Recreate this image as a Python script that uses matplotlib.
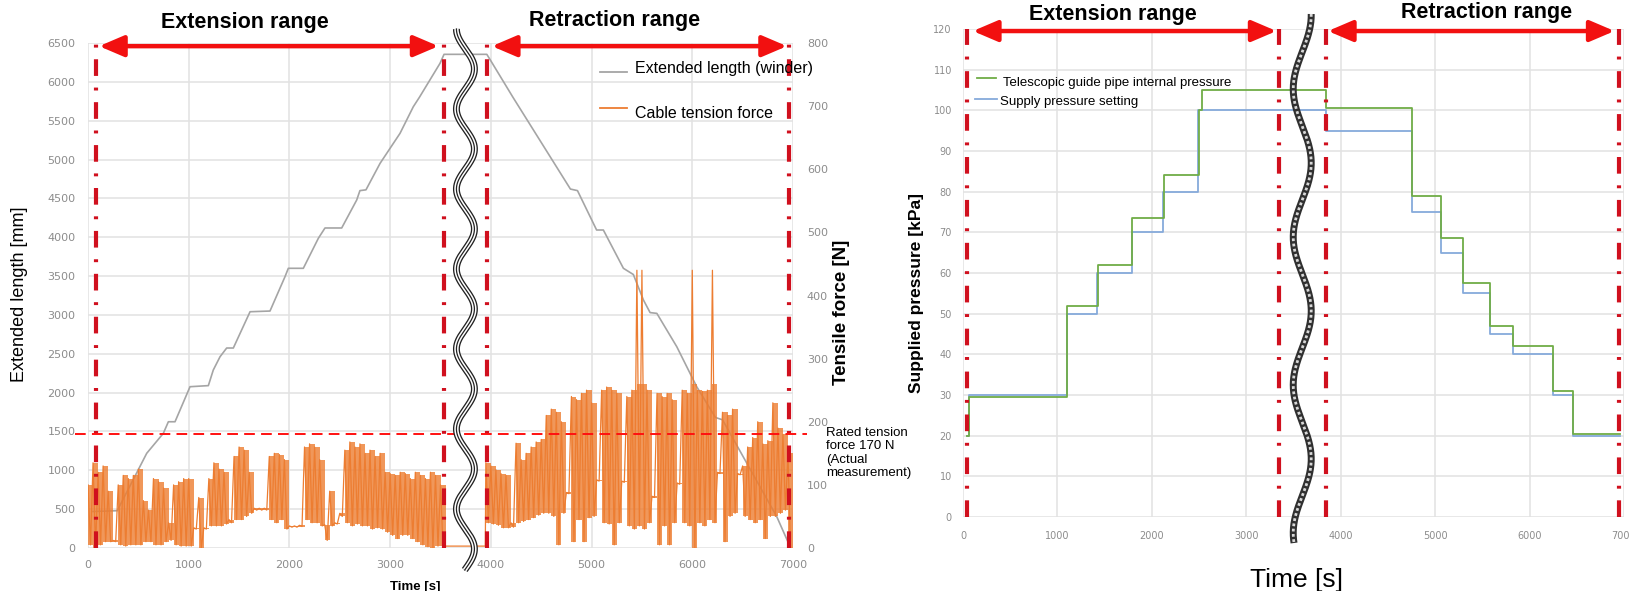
import numpy as np
import matplotlib.pyplot as plt
from matplotlib.lines import Line2D

plt.rcParams['font.family'] = ['Liberation Sans', 'DejaVu Sans']

W, H = 1631, 591

# ---------------- left chart: winder length + cable tension ----------------
len_time = [50, 290, 447, 583, 748, 798, 864, 914, 1013, 1195, 1244, 1311, 1377, 1443,
            1609, 1807, 1956, 1989, 2138, 2287, 2353, 2519, 2668, 2700, 2760, 2900,
            3098, 3230, 3290, 3495, 3535, 3960, 4000, 4220, 4790, 4860, 5050, 5117,
            5316, 5415, 5515, 5581, 5648, 5846, 6044, 6230, 6300, 6839, 6971]
len_mm = [470, 480, 875, 1219, 1476, 1625, 1625, 1776, 2076, 2090, 2291, 2462, 2574, 2574,
          3041, 3050, 3492, 3600, 3600, 3986, 4119, 4119, 4479, 4600, 4610, 4951,
          5337, 5680, 5800, 6238, 6354, 6354, 6270, 5800, 4620, 4600, 4093, 4093,
          3600, 3520, 3192, 3030, 3020, 2591, 2076, 1680, 1650, 403, 17]

# tension envelope read in 50 s bins (max / min of the trace in each bin) [N]
bin_w = 50
ext_start = 0
ext_hi = [100, 135, 120, 130, 90, 12, 100, 115, 110, 115, 125, 75, 60, 110, 105, 95, 40,
          100, 105, 110, 110, 32, 80, 32, 110, 135, 125, 120, 45, 145, 160, 155, 120,
          63, 63, 63, 145, 150, 148, 140, 35, 35, 36, 160, 165, 160, 140, 37, 90, 40,
          55, 155, 168, 160, 165, 150, 155, 145, 150, 120, 118, 115, 120, 118, 110,
          120, 115, 110, 120, 115, 100]
ext_lo = [5, 0, 5, 10, 10, 10, 5, 3, 5, 5, 5, 10, 10, 5, 5, 10, 12,
          5, 3, 3, 3, 30, 0, 30, 35, 35, 35, 38, 40, 45, 45, 50, 55,
          60, 60, 60, 45, 40, 45, 30, 33, 33, 34, 45, 40, 40, 35, 12, 35, 38,
          50, 40, 35, 38, 35, 35, 30, 32, 30, 25, 20, 15, 20, 20, 15,
          10, 5, 2, 0, 3, 3]
idle_force = 3
ret_start = 3950
ret_hi = [135, 130, 124, 118, 115, 40, 166, 140, 150, 160, 168, 172, 210, 220, 215, 200,
          88, 240, 235, 245, 250, 230, 108, 250, 255, 250, 245, 106, 240, 250, 440, 440,
          250, 82, 245, 240, 245, 235, 103, 250, 245, 440, 250, 248, 250, 440, 120,
          215, 210, 220, 118, 130, 160, 175, 200, 165, 170, 230, 190, 180, 150]
ret_lo = [40, 38, 36, 32, 32, 33, 40, 42, 45, 48, 52, 55, 55, 50, 5, 55,
          86, 10, 45, 10, 48, 50, 106, 40, 38, 5, 40, 104, 35, 30, 35, 30,
          40, 80, 5, 35, 5, 40, 101, 40, 35, 0, 40, 35, 45, 40, 118,
          10, 50, 55, 116, 50, 45, 40, 45, 15, 50, 50, 55, 60, 0]
# bins whose max is a single narrow spike: keep these out of the solid band
spike_cap = 260

rated_force = 181
left_marks = [80, 3535, 3960, 6960]
left_arrows = [(110, 3480), (4010, 6940)]

# ---------------- right chart: pressures ----------------
supply_t = [40, 60, 1100, 1420, 1790, 2120, 2490, 3840, 4750, 5060, 5290, 5580, 5820,
            6245, 6455, 6955]
supply_kpa = [20, 30, 50, 60, 70, 80, 100, 95, 75, 65, 55, 45, 40, 30, 20, 20]
pipe_t = [40, 60, 1105, 1425, 1795, 2125, 2495, 2530, 3840, 4755, 5065, 5295, 5585,
          5825, 6250, 6460, 6960]
pipe_kpa = [20, 29.5, 52, 62, 73.5, 84, 100, 105, 100.5, 79, 68.5, 57.5, 47, 42, 31,
            20.5, 20.5]
right_marks = [40, 3345, 3840, 6950]
right_arrows = [(105, 3320), (3865, 6900)]

ORANGE = '#ed7d31'
GRAY = '#a5a5a5'
GREEN = '#70ad47'
BLUE = '#86aadb'
MARK_RED = '#d0101e'
ARROW_RED = '#f21010'
TICK = '#8c8c8c'
GRID = '#e2e2e2'


def rect(x0, x1, ytop, ybot):
    return [x0 / W, 1 - ybot / H, (x1 - x0) / W, (ybot - ytop) / H]


def zigzag(t0, hi, lo):
    tt, ff = [], []
    for i, (h, l) in enumerate(zip(hi, lo)):
        t = t0 + i * bin_w
        tt += [t, t + bin_w / 2]
        ff += [h, l]
    return tt, ff


def band(ax, t0, hi, lo):
    edges = t0 + bin_w * np.arange(len(hi) + 1)
    h = np.minimum(np.array(hi + hi[-1:], float), spike_cap)
    l = np.array(lo + lo[-1:], float)
    ax.fill_between(edges, l, h, step='post', color=ORANGE, alpha=0.8, lw=0, zorder=2)


def style_ticks(ax, size):
    for lab in ax.get_xticklabels() + ax.get_yticklabels():
        lab.set_family('DejaVu Sans')
        lab.set_fontsize(size)
        lab.set_color(TICK)
    for s in ax.spines.values():
        s.set_visible(False)


fig = plt.figure(figsize=(W / 100, H / 100), dpi=100)

# ---- left panel ----
ax1 = fig.add_axes(rect(88, 793, 43, 548))
ax1r = ax1.twinx()
ax1.set_xlim(0, 7000)
ax1.set_ylim(0, 6500)
ax1r.set_ylim(0, 800)
ax1.set_xticks(range(0, 7001, 1000))
ax1.set_yticks(range(0, 6501, 500))
ax1r.set_yticks(range(0, 801, 100))
ax1.grid(True, color=GRID, lw=1.1)
ax1.set_axisbelow(True)
ax1.tick_params(length=0)
ax1.tick_params(axis='y', pad=9)
ax1.tick_params(axis='x', pad=9)
ax1r.tick_params(length=0, pad=10)
style_ticks(ax1, 8)
style_ticks(ax1r, 8)

ax1.plot(len_time, len_mm, color=GRAY, lw=1.2)

band(ax1r, ext_start, ext_hi, ext_lo)
band(ax1r, ret_start, ret_hi, ret_lo)
t1, f1 = zigzag(ext_start, ext_hi, ext_lo)
t2, f2 = zigzag(ret_start, ret_hi, ret_lo)
tt = t1 + [3550, ret_start - 5] + t2
ff = f1 + [idle_force, idle_force] + f2
ax1r.plot(tt, ff, color=ORANGE, lw=0.9, zorder=3)

for t in left_marks:
    ax1r.axvline(t, color=MARK_RED, lw=3, ls=(0, (4, 2.8, 0.7, 2.8)), zorder=6)
ax1r.plot([-0.018, 1.02], [rated_force, rated_force], color='#ff1010', lw=1.4,
          dashes=(5.5, 3.2), transform=ax1r.get_yaxis_transform(), clip_on=False,
          zorder=7)
for a, b in left_arrows:
    ax1r.annotate('', xy=(b, 795), xytext=(a, 795),
                  arrowprops=dict(arrowstyle='<|-|>,head_length=0.75,head_width=0.32',
                                  color=ARROW_RED, lw=3.2, shrinkA=0, shrinkB=0,
                                  mutation_scale=20),
                  annotation_clip=False, zorder=8)

# ---- right panel ----
ax2 = fig.add_axes(rect(963, 1624, 29, 517))
ax2.set_xlim(0, 7000)
ax2.set_ylim(0, 120)
ax2.set_xticks(range(0, 7001, 1000))
ax2.set_yticks(range(0, 121, 10))
ax2.grid(True, color=GRID, lw=1.1)
ax2.set_axisbelow(True)
ax2.tick_params(length=0)
ax2.tick_params(axis='y', pad=8)
ax2.tick_params(axis='x', pad=10)
style_ticks(ax2, 7)

ax2.plot(supply_t, supply_kpa, drawstyle='steps-post', color=BLUE, lw=1.3)
ax2.plot(pipe_t, pipe_kpa, drawstyle='steps-post', color=GREEN, lw=1.3)
for t in right_marks:
    ax2.axvline(t, color=MARK_RED, lw=3, ls=(0, (4, 2.8, 0.7, 2.8)), zorder=6)
for a, b in right_arrows:
    ax2.annotate('', xy=(b, 119.5), xytext=(a, 119.5),
                 arrowprops=dict(arrowstyle='<|-|>,head_length=0.75,head_width=0.32',
                                 color=ARROW_RED, lw=3.2, shrinkA=0, shrinkB=0,
                                 mutation_scale=20),
                 annotation_clip=False, zorder=8)

# ---- overlay (pixel coordinates, origin top-left) ----
ov = fig.add_axes([0, 0, 1, 1])
ov.set_xlim(0, W)
ov.set_ylim(H, 0)
ov.axis('off')
ov.set_zorder(20)

# break symbols centred between the two range markers
xl = ax1.transData.transform(((left_marks[1] + left_marks[2]) / 2, 0))[0]
xr = ax2.transData.transform(((right_marks[1] + right_marks[2]) / 2, 0))[0]
yy = np.linspace(29, 570, 800)
wx = xl - 9 * np.cos(2 * np.pi * (yy - 29) / 80)
ov.plot(wx, yy, color='#222222', lw=5, solid_capstyle='butt')
ov.plot(wx, yy, color='white', lw=3.1, solid_capstyle='butt')
ov.plot(wx, yy, color='#222222', lw=0.9)
yy = np.linspace(14, 543, 800)
wx = xr - 9 * np.cos(2 * np.pi * (yy - 89) / 148)
ov.plot(wx, yy, color='#303030', lw=5, solid_capstyle='butt')
ov.plot(wx, yy, color='#d8d8d8', lw=2.0, dashes=(1.0, 0.9))

# legends
ov.add_line(Line2D([600, 627], [72, 72], color=GRAY, lw=1.3))
ov.add_line(Line2D([600, 627], [108, 108], color=ORANGE, lw=1.3))
ov.text(635, 73, 'Extended length (winder)', fontsize=11.5, va='baseline')
ov.text(635, 118, 'Cable tension force', fontsize=11.5, va='baseline')
ov.add_line(Line2D([977, 996], [78, 78], color=GREEN, lw=1.3))
ov.add_line(Line2D([975, 997], [99, 99], color=BLUE, lw=1.3))
ov.text(1003, 86, 'Telescopic guide pipe internal pressure', fontsize=9.5, va='baseline')
ov.text(1000, 105, 'Supply pressure setting', fontsize=9.5, va='baseline')

# titles and labels
ov.text(245, 28, 'Extension range', fontsize=15.5, weight='bold', ha='center', va='baseline')
ov.text(615, 26, 'Retraction range', fontsize=15.5, weight='bold', ha='center', va='baseline')
ov.text(1113, 20, 'Extension range', fontsize=15.5, weight='bold', ha='center', va='baseline')
ov.text(1487, 18, 'Retraction range', fontsize=15.5, weight='bold', ha='center', va='baseline')

ov.text(20, 294, 'Extended length [mm]', fontsize=13, rotation=90, ha='center', va='center')
ov.text(842, 312, 'Tensile force [N]', fontsize=13.5, weight='bold', rotation=90,
        ha='center', va='center')
ov.text(917, 293, 'Supplied pressure [kPa]', fontsize=12.5, weight='bold', rotation=90,
        ha='center', va='center')
ov.text(415, 590, 'Time [s]', fontsize=9.5, weight='bold', ha='center', va='baseline')
ov.text(1297, 587, 'Time [s]', fontsize=19, ha='center', va='baseline')
ov.text(826, 427, 'Rated tension\nforce 170 N\n(Actual\nmeasurement)', fontsize=9.5,
        va='top', linespacing=1.15)

fig.savefig('out.png', dpi=100)
